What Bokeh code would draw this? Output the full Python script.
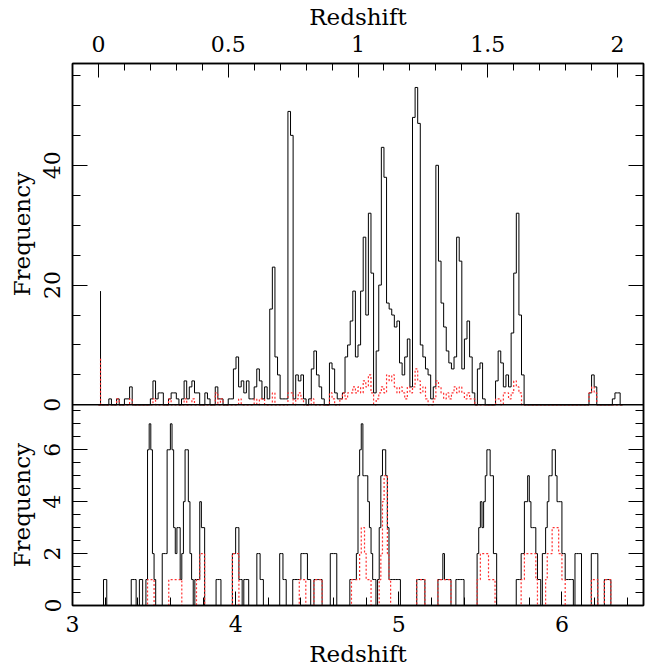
import math
import numpy as np
from bokeh.plotting import figure
from bokeh.models import (Range1d, LinearAxis, SingleIntervalTicker, FixedTicker,
                          CustomJSTickFormatter, Span)
from bokeh.embed import file_html
from bokeh.resources import INLINE

# ---------------- data (histogram counts, bins of 0.01 in redshift) ----------------
BIN = 0.01
TOP_Z0, TOP_NBINS = 0.0, 202        # upper panel: z = 0 .. 2.02
BOT_Z0, BOT_NBINS = 3.0, 350        # lower panel: z = 3 .. 6.5

# (first bin index, counts...) for the full sample (black) and the sub-sample (red)
top_total_clusters = [
    (4, [1]), (7, [1]), (10, [1, 1, 3]),
    (20, [1, 4, 1, 2, 2]),
    (27, [1, 2, 2, 1, 0, 1, 4, 1, 3, 4, 2, 2]),
    (41, [2, 1]), (45, [3, 1, 1]),
    (50, [1, 1, 6, 8, 3, 4, 2, 4, 1, 1, 3, 6, 4, 1, 3, 1]),
    (66, [16, 23, 8, 5, 1, 1, 1, 49, 45, 1]),
    (76, [5, 4, 5, 1, 0, 1, 6, 9, 5, 3, 1]),
    (89, [7, 6, 2, 1, 1, 2, 8, 10, 14, 19, 8, 10, 19, 28, 15, 32, 22]),
    (106, [2, 9, 20, 43, 38, 17, 16, 15, 13, 14, 7, 5, 8, 11, 3]),
    (121, [48, 53, 47, 10, 8, 6, 5, 1]),
    (129, [3, 40, 24, 17, 13, 9, 7, 6, 8, 28, 24, 6, 11, 14, 8, 2]),
    (146, [6, 7, 1]),
    (153, [4, 9, 7, 3, 5, 3, 12, 22, 32, 15, 5]),
    (189, [2, 5, 3]),
    (198, [1, 2, 2]),
]
top_red_clusters = [
    (7, [1]), (12, [1]), (21, [1]), (27, [1]), (33, [1]), (36, [1]),
    (45, [2, 0, 1]), (54, [1]), (60, [1, 0, 1, 1]), (67, [2]),
    (73, [2, 2, 0, 1, 2, 1]), (82, [1]), (89, [2, 1]),
    (93, [1, 2, 1, 2, 2, 3, 2, 3, 2, 4, 3, 5, 2, 0, 1, 2, 3, 2, 5, 4,
          5, 3, 2, 3, 2, 1, 3, 2, 3, 6, 4, 2, 3, 1]),
    (129, [1, 4, 3, 2, 1, 2, 1, 2, 3, 2, 3, 2, 1, 2, 1, 1]),
    (153, [1, 1, 0, 2, 2, 1, 2, 4, 3, 2]),
    (189, [2, 3, 2]),
]
# single narrow spike near z = 0
spike_z = [0.008]
spike_total = [19]
spike_red = [8]

bot_total_clusters = [
    (19, [1, 1]),
    (36, [1, 1, 1]),
    (41, [1, 1]),
    (45, [1, 6, 7, 6, 2, 1]),
    (55, [2, 2, 2, 6, 6, 7, 6, 3, 2, 3, 3, 1, 2, 4, 6, 6, 4, 2, 1, 0, 1, 1, 1, 4, 3, 3]),
    (88, [1, 1, 1]),
    (98, [2, 2, 3, 3, 1, 1, 0, 1, 1, 1]),
    (113, [2, 2, 1, 1]),
    (127, [2, 2, 1, 1]),
    (135, [1, 1, 1, 1, 1, 2, 2, 2, 2, 1, 1]),
    (148, [1, 1, 1, 1, 1]),
    (158, [2, 2, 2, 2]),
    (170, [1, 1, 1, 1, 2, 5, 6, 7, 5, 5, 5, 4, 3, 2, 1, 1, 0, 1, 3, 5,
           6, 6, 5, 3, 1, 1, 1, 1, 1, 1, 1]),
    (211, [1, 1, 1, 1, 1]),
    (224, [1, 1, 1, 2, 1, 1, 1, 1]),
    (235, [1, 1, 1, 1, 1]),
    (248, [2, 3, 4, 3, 4, 5, 6, 6, 5, 5, 2, 2]),
    (272, [1, 1, 1, 2, 2, 4, 4, 5, 4, 3, 3, 3, 2, 1, 1]),
    (288, [2, 2, 3, 4, 5, 5, 6, 6, 5, 4, 4, 4, 2, 2, 1, 1, 1, 1, 1]),
    (308, [2, 2, 2, 2]),
    (318, [2, 2, 2, 2]),
    (326, [1, 1, 1, 1]),
]
bot_red_clusters = [
    (46, [1, 1, 1, 1]),
    (59, [1, 1, 1, 1, 1, 1, 1, 1]),
    (76, [1, 1, 2, 2, 2]),
    (98, [2, 2, 2, 2]),
    (139, [1, 1, 1, 1]),
    (148, [1, 1, 1, 1, 1]),
    (171, [1, 1, 1, 1, 1, 2, 3, 3, 2, 1, 1, 1]),
    (188, [1, 2, 4, 5, 5, 2, 1]),
    (211, [1, 1, 1, 1, 1]),
    (224, [1, 1, 1, 1, 1, 1, 1, 1]),
    (248, [1, 1, 2, 2, 2, 2, 2, 1, 1, 1, 1]),
    (275, [1, 1, 2, 2, 2, 2, 2, 2, 2, 1]),
    (290, [1, 2, 2, 2, 3, 3, 3, 3, 2, 2, 1, 1]),
    (318, [1, 1, 1, 1]),
    (326, [1, 1, 1, 1]),
]

top_z_ticks_interval = 0.5
top_freq_major = [0, 20, 40]
top_freq_minor = list(range(5, 56, 5))
bot_freq_major = [0, 2, 4, 6]
bot_freq_minor = [0.5 * k for k in range(1, 16)]
x_title = "Redshift"
y_title = "Frequency"

# ---------------- layout ----------------
W, H = 662, 670
ML, MR, MT, MB = 72, 19, 62, 65
TOP_H, BOT_H = 342, 201
TOP_FMAX, BOT_FMAX = 57.0, 7.73
TOP_ZR = (-0.1, 2.1)
BOT_ZR = (3.0, 6.5)

FONT = "DejaVu Serif"
FS = "22px"
FS_LAB = "23px"


def hist(clusters, n, z0):
    counts = np.zeros(n)
    for s, vals in clusters:
        counts[s:s + len(vals)] = vals
    edges = z0 + BIN * np.arange(n + 1)
    return edges, np.append(counts, 0.0)


tot_span = TOP_H + BOT_H
bot_y_range = Range1d(0, BOT_FMAX * tot_span / BOT_H)
top_y_range = Range1d(TOP_FMAX - TOP_FMAX * tot_span / TOP_H, TOP_FMAX)


def top_to_bot(t):
    return BOT_FMAX + t * (TOP_H / TOP_FMAX) / (BOT_H / BOT_FMAX)


p = figure(width=W, height=H, x_range=Range1d(*BOT_ZR), y_range=bot_y_range,
           x_axis_location=None, y_axis_location=None,
           toolbar_location=None, output_backend="svg",
           min_border_left=ML, min_border_right=MR, min_border_top=MT, min_border_bottom=MB)
p.extra_x_ranges = {"ztop": Range1d(*TOP_ZR)}
p.extra_y_ranges = {"ftop": top_y_range}
p.xgrid.visible = False
p.ygrid.visible = False
p.outline_line_color = "black"
p.outline_line_width = 1.5
p.background_fill_color = "white"


def style_axis(ax, major_in, minor_in):
    ax.major_tick_in = major_in
    ax.major_tick_out = 0
    ax.minor_tick_in = minor_in
    ax.minor_tick_out = 0
    ax.axis_line_color = "black"
    ax.axis_line_width = 1.5
    ax.major_tick_line_color = "black"
    ax.minor_tick_line_color = "black"
    ax.major_label_text_font = FONT
    ax.major_label_text_font_size = FS
    ax.major_label_text_color = "black"
    ax.axis_label_text_font = FONT
    ax.axis_label_text_font_size = FS_LAB
    ax.axis_label_text_font_style = "normal"
    ax.axis_label_text_color = "black"


plain = "return String(Math.round(tick * 1000) / 1000);"

# top axis (upper panel redshift)
ax_top = LinearAxis(x_range_name="ztop",
                    ticker=SingleIntervalTicker(interval=top_z_ticks_interval, num_minor_ticks=5),
                    formatter=CustomJSTickFormatter(code=plain),
                    axis_label=x_title)
style_axis(ax_top, 14, 7)
ax_top.major_label_standoff = 12
ax_top.axis_label_standoff = 3
p.add_layout(ax_top, "above")

# bottom axis (lower panel redshift)
ax_bot = LinearAxis(ticker=SingleIntervalTicker(interval=1, num_minor_ticks=5),
                    formatter=CustomJSTickFormatter(code=plain),
                    axis_label=x_title)
style_axis(ax_bot, 14, 8)
ax_bot.major_label_standoff = 10
ax_bot.axis_label_standoff = 6
p.add_layout(ax_bot, "below")

# left axis covering both panels (ticks + numbers)
maj = [float(v) for v in bot_freq_major] + [top_to_bot(t) for t in top_freq_major]
mnr = [float(v) for v in bot_freq_minor] + [top_to_bot(t) for t in top_freq_minor]
fmt = CustomJSTickFormatter(
    args=dict(b0=BOT_FMAX, k=(BOT_H / BOT_FMAX) / (TOP_H / TOP_FMAX)),
    code="if (tick > b0 - 1e-6) { return String(Math.round((tick - b0) * k)); }"
         " return String(Math.round(tick * 1000) / 1000);")
ax_left = LinearAxis(ticker=FixedTicker(ticks=maj, minor_ticks=mnr), formatter=fmt)
style_axis(ax_left, 15, 8)
ax_left.major_label_orientation = "vertical"
ax_left.major_label_standoff = 12
p.add_layout(ax_left, "left")

# outer left "axis" carrying one y title per panel, centred on each panel
panel_centres = [BOT_FMAX / 2, top_to_bot(TOP_FMAX / 2)]
ax_ytitle = LinearAxis(ticker=FixedTicker(ticks=panel_centres, minor_ticks=[]),
                       formatter=CustomJSTickFormatter(args=dict(t=y_title), code="return t;"))
style_axis(ax_ytitle, 0, 0)
ax_ytitle.axis_line_color = None
ax_ytitle.major_tick_line_color = None
ax_ytitle.minor_tick_line_color = None
ax_ytitle.major_label_text_font_size = FS_LAB
ax_ytitle.major_label_orientation = "vertical"
ax_ytitle.major_label_standoff = 6
p.add_layout(ax_ytitle, "left")

ax_right = LinearAxis(ticker=FixedTicker(ticks=maj, minor_ticks=mnr),
                      formatter=CustomJSTickFormatter(code="return '';"))
style_axis(ax_right, 15, 8)
ax_right.major_label_standoff = 0
p.add_layout(ax_right, "right")

# divider between the panels (upper panel baseline)
p.add_layout(Span(location=BOT_FMAX, dimension="width", line_color="black", line_width=1.5))

# ---------------- histograms ----------------
RED = "#ff3030"
RED_DASH = "2 2"
e, y = hist(top_total_clusters, TOP_NBINS, TOP_Z0)
p.step(e, y, mode="after", line_color="black", line_width=1,
       x_range_name="ztop", y_range_name="ftop")
e, y = hist(top_red_clusters, TOP_NBINS, TOP_Z0)
p.step(e, y, mode="after", line_color=RED, line_width=1.2, line_dash=RED_DASH,
       x_range_name="ztop", y_range_name="ftop")
p.segment(x0=spike_z, y0=[0] * len(spike_z), x1=spike_z, y1=spike_total,
          line_color="black", line_width=1, x_range_name="ztop", y_range_name="ftop")
p.segment(x0=spike_z, y0=[0] * len(spike_z), x1=spike_z, y1=spike_red,
          line_color=RED, line_width=1.2, line_dash=RED_DASH, x_range_name="ztop", y_range_name="ftop")

e, y = hist(bot_total_clusters, BOT_NBINS, BOT_Z0)
p.step(e, y, mode="after", line_color="black", line_width=1)
e, y = hist(bot_red_clusters, BOT_NBINS, BOT_Z0)
p.step(e, y, mode="after", line_color=RED, line_width=1.2, line_dash=RED_DASH)

open("out.html", "w").write(file_html(p, INLINE))
